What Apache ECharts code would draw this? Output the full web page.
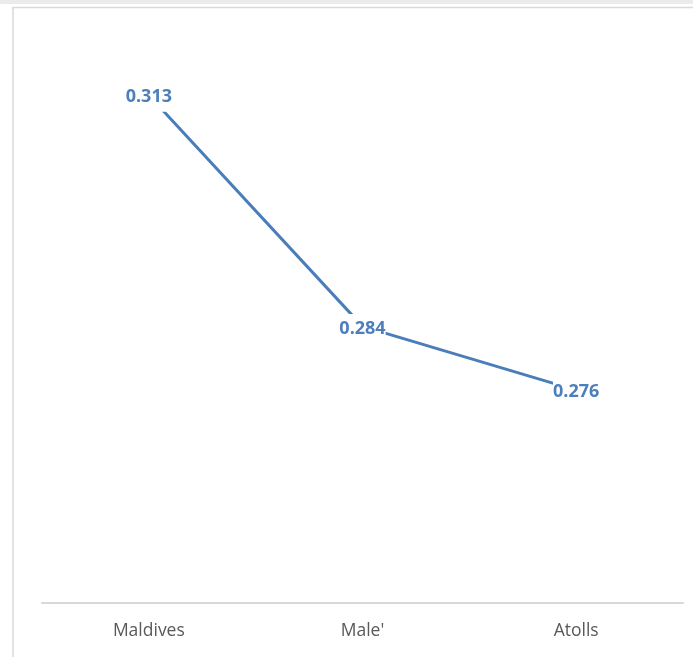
<!DOCTYPE html>
<html>
<head>
<meta charset="utf-8">
<script src="https://cdn.jsdelivr.net/npm/echarts@6/dist/echarts.min.js"></script>
<style>
  html, body { margin: 0; padding: 0; background: #ffffff; }
  #chart { width: 693px; height: 657px; }
</style>
</head>
<body>
<div id="chart"></div>
<script>
// Regions and their index values
const categories = ["Maldives", "Male'", "Atolls"];
const indexValues = [0.313, 0.284, 0.276];

// Value-axis range (axis itself is hidden)
const yMin = 0.2493;
const yMax = 0.3193;

const blue = '#4a7ebb';

const chart = echarts.init(document.getElementById('chart'), null, { renderer: 'canvas' });

chart.setOption({
  animation: false,
  backgroundColor: '#ffffff',
  graphic: [
    // thin grey strip along the very top
    { type: 'rect', shape: { x: 0, y: 0, width: 693, height: 4 }, style: { fill: '#ebebeb' }, z: 0 },
    // chart-area frame
    { type: 'rect', shape: { x: 13, y: 7.5, width: 700, height: 700 },
      style: { fill: 'none', stroke: '#d9d9d9', lineWidth: 1.5 }, z: 0 }
  ],
  grid: { left: 42, right: 10, top: 45, bottom: 54, containLabel: false },
  xAxis: {
    type: 'category',
    data: categories,
    boundaryGap: true,
    axisLine: { show: true, lineStyle: { color: '#d9d9d9', width: 2 } },
    axisTick: { show: false },
    axisLabel: {
      color: '#595959',
      fontFamily: 'Open Sans',
      fontSize: 17.5,
      margin: 19
    },
    splitLine: { show: false }
  },
  yAxis: {
    type: 'value',
    min: yMin,
    max: yMax,
    show: false,
    splitLine: { show: false }
  },
  series: [{
    type: 'line',
    data: indexValues,
    symbol: 'circle',
    symbolSize: 2,
    showSymbol: true,
    lineStyle: { color: blue, width: 3 },
    itemStyle: { color: 'rgba(0,0,0,0)', borderWidth: 0 },
    label: {
      show: true,
      position: 'inside',
      offset: [0, 2],
      formatter: (p) => p.value.toFixed(3),
      color: '#4d7fbd',
      fontFamily: 'Open Sans',
      fontWeight: 'bold',
      fontSize: 18,
      backgroundColor: '#ffffff',
      padding: [6, 0, 5, 0]
    },
    z: 2
  }]
});
</script>
</body>
</html>
